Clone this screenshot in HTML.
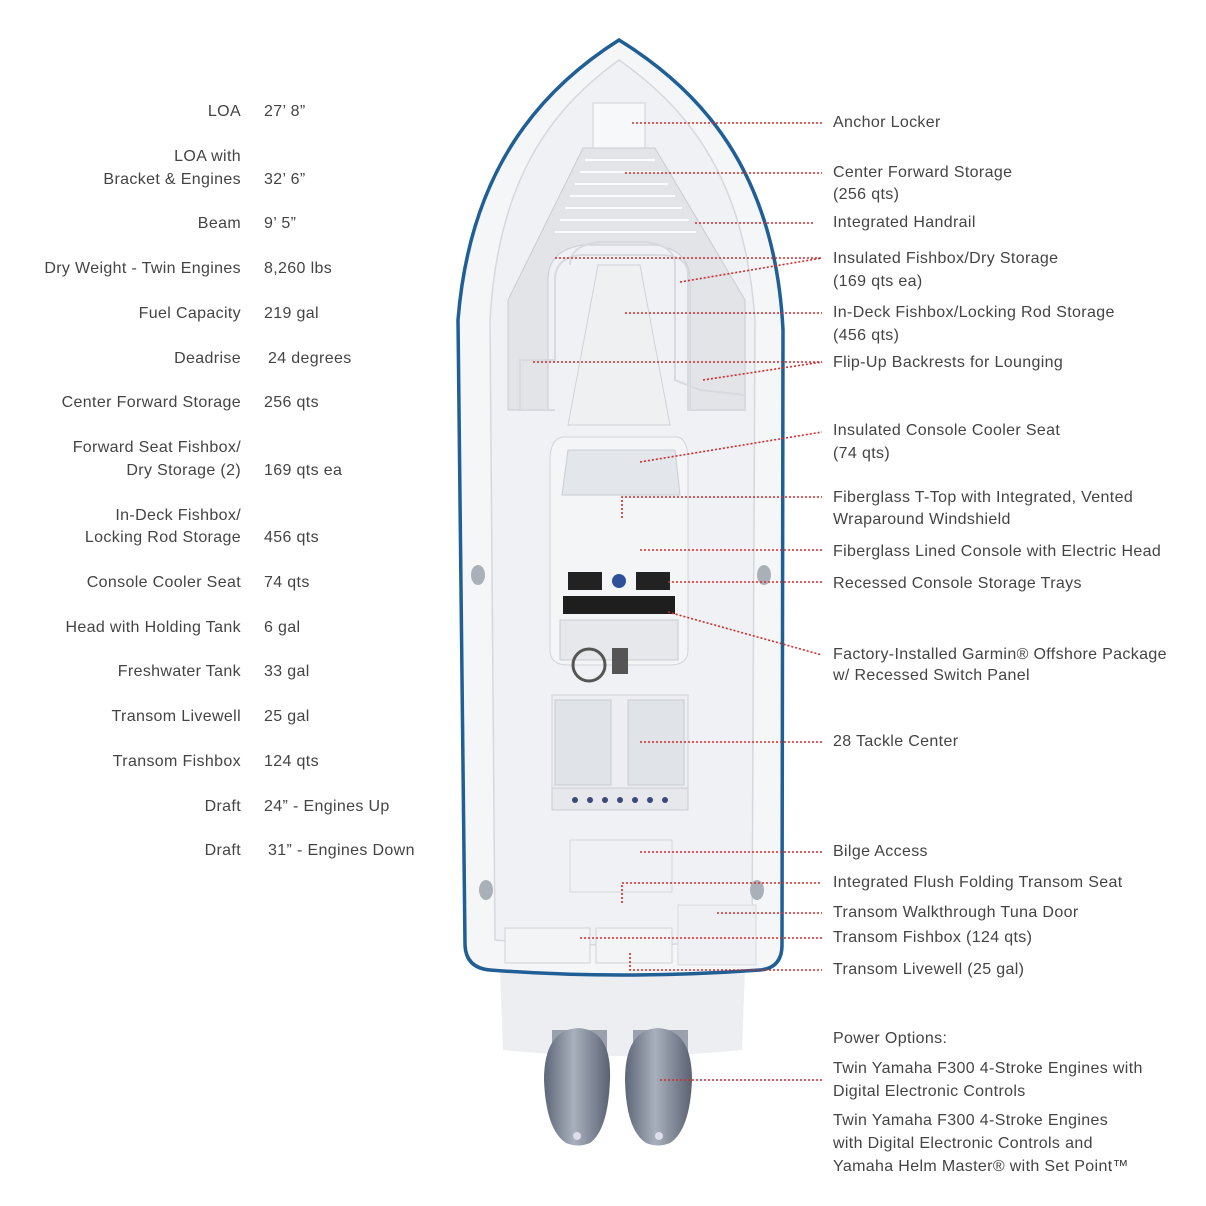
<!DOCTYPE html>
<html><head><meta charset="utf-8"><style>
html,body{margin:0;padding:0;background:#fff;}
#c{position:relative;width:1206px;height:1206px;overflow:hidden;font-family:"Liberation Sans",sans-serif;font-size:16px;color:#444;letter-spacing:0.35px;}
.t{position:absolute;line-height:20px;white-space:nowrap;}
.l{right:965px;text-align:right;}
.v{left:264px;}
.r{left:833px;}
svg{position:absolute;left:0;top:0;}
</style></head><body><div id="c">
<svg width="1206" height="1206" viewBox="0 0 1206 1206">
<defs>
<linearGradient id="eg" x1="0" x2="1"><stop offset="0" stop-color="#5d6677"/><stop offset=".45" stop-color="#a9b0bd"/><stop offset="1" stop-color="#5a6273"/></linearGradient>
</defs>
<path d="M500,970 L745,970 L742,1050 Q620,1062 503,1050 Z" fill="#eceef1"/>
<rect x="552" y="1030" width="55" height="30" fill="#9aa1ad"/>
<rect x="633" y="1030" width="55" height="30" fill="#9aa1ad"/>
<path d="M578,1028 Q612,1030 610,1080 Q608,1130 590,1143 Q578,1148 566,1143 Q546,1130 544,1080 Q544,1030 578,1028Z" fill="url(#eg)"/>
<path d="M658,1028 Q692,1030 692,1080 Q690,1130 670,1143 Q658,1148 646,1143 Q626,1130 625,1080 Q625,1030 658,1028Z" fill="url(#eg)"/>
<circle cx="577" cy="1136" r="4" fill="#dde"/><circle cx="659" cy="1136" r="4" fill="#dde"/>
<path d="M619,40 C540,90 470,170 458,320 L465,945 Q466,968 490,970 Q620,980 760,970 Q782,968 782,945 L783,330 C775,170 700,90 619,40 Z" fill="#f5f6f8" stroke="#1f5f95" stroke-width="3.5"/>
<path d="M619,60 C550,110 498,180 490,320 L495,940 Q620,950 752,940 L755,320 C745,180 690,110 619,60 Z" fill="#f0f1f4" stroke="#d5d8de" stroke-width="1.5"/>
<rect x="593" y="103" width="52" height="45" fill="#f7f8f9" stroke="#cfd3d9"/>
<path d="M583,148 L655,148 L745,300 L745,410 L690,410 L690,280 Q690,250 655,245 L583,245 Q548,250 548,280 L548,410 L508,410 L508,300 Z" fill="#e2e4e8" stroke="#c8ccd2"/>
<g stroke="#fafbfc" stroke-width="2">
<line x1="585" y1="160" x2="655" y2="160"/><line x1="580" y1="172" x2="662" y2="172"/><line x1="575" y1="184" x2="668" y2="184"/><line x1="570" y1="196" x2="675" y2="196"/><line x1="565" y1="208" x2="682" y2="208"/><line x1="560" y1="220" x2="689" y2="220"/><line x1="555" y1="232" x2="696" y2="232"/>
</g>
<path d="M570,265 Q570,245 600,242 L645,242 Q675,245 675,265 L675,380 L700,390 L745,395 L745,410 L688,410 L688,275 Q688,255 660,255 L580,255 Q555,258 555,280 L555,360 L520,360 L520,410 L555,410" fill="none" stroke="#d7dade" stroke-width="2"/>
<path d="M598,265 L640,265 L670,425 L568,425 Z" fill="#eef0f2" stroke="#cfd3d8"/>
<path d="M562,437 L678,437 Q688,440 688,460 L688,650 Q688,665 670,665 L568,665 Q550,665 550,650 L550,460 Q550,440 562,437Z" fill="#f4f5f7" stroke="#d0d4da"/>
<path d="M568,450 L675,450 L680,495 L562,495 Z" fill="#e3e6ea" stroke="#c9cdd3"/>
<rect x="568" y="572" width="34" height="18" fill="#222"/><rect x="636" y="572" width="34" height="18" fill="#222"/>
<circle cx="619" cy="581" r="7" fill="#2f4f9a"/>
<rect x="563" y="596" width="112" height="18" fill="#1e1e1e"/>
<rect x="560" y="620" width="118" height="40" fill="#e6e8eb" stroke="#c7cbd1"/>
<circle cx="589" cy="665" r="16" fill="none" stroke="#555" stroke-width="3"/>
<rect x="612" y="648" width="16" height="26" fill="#555"/>
<rect x="552" y="695" width="136" height="95" fill="#eceef1" stroke="#d0d4d9"/>
<rect x="555" y="700" width="56" height="85" fill="#e0e3e7" stroke="#c9cdd3"/>
<rect x="628" y="700" width="56" height="85" fill="#e0e3e7" stroke="#c9cdd3"/>
<rect x="552" y="788" width="136" height="22" fill="#e6e8eb" stroke="#c9cdd3"/>
<g fill="#3a4a7a"><circle cx="575" cy="800" r="3"/><circle cx="590" cy="800" r="3"/><circle cx="605" cy="800" r="3"/><circle cx="620" cy="800" r="3"/><circle cx="635" cy="800" r="3"/><circle cx="650" cy="800" r="3"/><circle cx="665" cy="800" r="3"/></g>
<rect x="570" y="840" width="102" height="52" fill="none" stroke="#d3d6db"/>
<rect x="505" y="928" width="85" height="35" fill="#f3f4f6" stroke="#cfd3d8"/>
<rect x="596" y="928" width="76" height="35" fill="#f3f4f6" stroke="#cfd3d8"/>
<rect x="678" y="905" width="78" height="60" fill="#eff0f3" stroke="#d7dade"/>
<g fill="#aab0b8"><ellipse cx="478" cy="575" rx="7" ry="10"/><ellipse cx="764" cy="575" rx="7" ry="10"/><ellipse cx="486" cy="890" rx="7" ry="10"/><ellipse cx="757" cy="890" rx="7" ry="10"/></g>
<g stroke="#d42a2a" stroke-width="1.6" stroke-dasharray="2,2" fill="none">
<path d="M632,123H822"/><path d="M625,173H822"/><path d="M695,223H815"/>
<path d="M555,258H822"/><path d="M680,282L822,258"/>
<path d="M625,313H822"/><path d="M533,362H822"/><path d="M703,380L822,362"/>
<path d="M640,462L822,432"/><path d="M622,518V497H822"/>
<path d="M640,550H822"/><path d="M668,582H822"/><path d="M668,612L822,655"/>
<path d="M640,742H822"/><path d="M640,852H822"/><path d="M622,903V883H822"/>
<path d="M717,913H822"/><path d="M580,938H822"/><path d="M630,953V970H822"/>
<path d="M660,1080H822"/>
</g>
</svg>
<div class="t l" style="top:102px">LOA</div><div class="t v" style="top:102px">27’ 8”</div>
<div class="t l" style="top:147px">LOA with</div><div class="t l" style="top:170px">Bracket &amp; Engines</div><div class="t v" style="top:170px">32’ 6”</div>
<div class="t l" style="top:214px">Beam</div><div class="t v" style="top:214px">9’ 5”</div>
<div class="t l" style="top:259px">Dry Weight - Twin Engines</div><div class="t v" style="top:259px">8,260 lbs</div>
<div class="t l" style="top:304px">Fuel Capacity</div><div class="t v" style="top:304px">219 gal</div>
<div class="t l" style="top:349px">Deadrise</div><div class="t v" style="top:349px;left:268px">24 degrees</div>
<div class="t l" style="top:393px">Center Forward Storage</div><div class="t v" style="top:393px">256 qts</div>
<div class="t l" style="top:438px">Forward Seat Fishbox/</div><div class="t l" style="top:461px">Dry Storage (2)</div><div class="t v" style="top:461px">169 qts ea</div>
<div class="t l" style="top:506px">In-Deck Fishbox/</div><div class="t l" style="top:528px">Locking Rod Storage</div><div class="t v" style="top:528px">456 qts</div>
<div class="t l" style="top:573px">Console Cooler Seat</div><div class="t v" style="top:573px">74 qts</div>
<div class="t l" style="top:618px">Head with Holding Tank</div><div class="t v" style="top:618px">6 gal</div>
<div class="t l" style="top:662px">Freshwater Tank</div><div class="t v" style="top:662px">33 gal</div>
<div class="t l" style="top:707px">Transom Livewell</div><div class="t v" style="top:707px">25 gal</div>
<div class="t l" style="top:752px">Transom Fishbox</div><div class="t v" style="top:752px">124 qts</div>
<div class="t l" style="top:797px">Draft</div><div class="t v" style="top:797px">24” - Engines Up</div>
<div class="t l" style="top:841px">Draft</div><div class="t v" style="top:841px;left:268px">31” - Engines Down</div>

<div class="t r" style="top:113px">Anchor Locker</div>
<div class="t r" style="top:162px;line-height:22px">Center Forward Storage<br>(256 qts)</div>
<div class="t r" style="top:213px">Integrated Handrail</div>
<div class="t r" style="top:247px;line-height:23px">Insulated Fishbox/Dry Storage<br>(169 qts ea)</div>
<div class="t r" style="top:301px;line-height:23px">In-Deck Fishbox/Locking Rod Storage<br>(456 qts)</div>
<div class="t r" style="top:353px">Flip-Up Backrests for Lounging</div>
<div class="t r" style="top:419px;line-height:23px">Insulated Console Cooler Seat<br>(74 qts)</div>
<div class="t r" style="top:487px;line-height:22px">Fiberglass T-Top with Integrated, Vented<br>Wraparound Windshield</div>
<div class="t r" style="top:542px">Fiberglass Lined Console with Electric Head</div>
<div class="t r" style="top:574px">Recessed Console Storage Trays</div>
<div class="t r" style="top:644px;line-height:21px">Factory-Installed Garmin® Offshore Package<br>w/ Recessed Switch Panel</div>
<div class="t r" style="top:732px">28 Tackle Center</div>
<div class="t r" style="top:842px">Bilge Access</div>
<div class="t r" style="top:873px">Integrated Flush Folding Transom Seat</div>
<div class="t r" style="top:903px">Transom Walkthrough Tuna Door</div>
<div class="t r" style="top:928px">Transom Fishbox (124 qts)</div>
<div class="t r" style="top:960px">Transom Livewell (25 gal)</div>
<div class="t r" style="top:1029px">Power Options:</div>
<div class="t r" style="top:1057px;line-height:23px">Twin Yamaha F300 4-Stroke Engines with<br>Digital Electronic Controls</div>
<div class="t r" style="top:1109px;line-height:23px">Twin Yamaha F300 4-Stroke Engines<br>with Digital Electronic Controls and<br>Yamaha Helm Master® with Set Point™</div>
</div></body></html>
